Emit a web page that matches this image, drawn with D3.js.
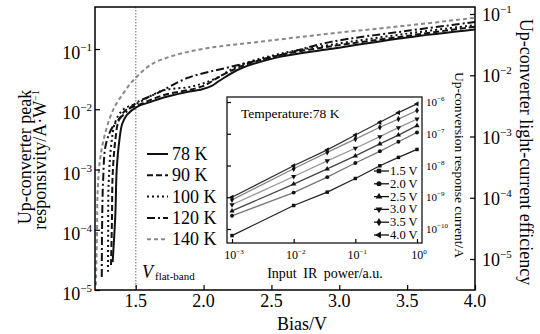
<!DOCTYPE html>
<html>
<head>
<meta charset="utf-8">
<script src="https://cdn.jsdelivr.net/npm/d3@7"></script>
<style>
    body { margin: 0; background: #fff; }
    svg { font-family: "Liberation Serif", "Times New Roman", serif; }
</style>
</head>
<body>
<div id="chart"></div>
<script>
const width = 540;
const height = 334;

// Main chart: peak responsivity (A/W) vs bias (V)
const temperatures = ['78 K', '90 K', '100 K', '120 K', '140 K'];

const bias78K = [1.33, 1.35, 1.36, 1.38, 1.40, 1.435, 1.51, 1.60, 1.70, 1.86, 1.99, 2.06, 2.12, 2.27, 2.56, 2.93, 3.50, 4.0];
const resp78K = [2.9e-5, 1.8e-4, 1.0e-3, 3.1e-3, 5.7e-3, 8.1e-3, 1.1e-2, 1.3e-2, 1.55e-2, 1.9e-2, 2.15e-2, 2.45e-2, 3.0e-2, 4.7e-2, 7.4e-2, 1.0e-1, 1.55e-1, 2.1e-1];

const bias90K = [1.318, 1.325, 1.33, 1.35, 1.376, 1.43, 1.51, 1.70, 1.99, 2.12, 2.27, 2.56, 2.93, 3.50, 4.0];
const resp90K = [2.6e-5, 1.45e-4, 8.1e-4, 3.1e-3, 6.6e-3, 9.8e-3, 1.15e-2, 1.7e-2, 2.4e-2, 3.5e-2, 5.1e-2, 7.9e-2, 1.1e-1, 1.65e-1, 2.35e-1];

const bias100K = [1.296, 1.297, 1.30, 1.32, 1.35, 1.41, 1.51, 1.70, 1.90, 2.07, 2.27, 2.56, 2.93, 3.50, 4.0];
const resp100K = [2.0e-5, 1.0e-4, 5.5e-4, 2.6e-3, 6.2e-3, 1.0e-2, 1.25e-2, 2.05e-2, 2.35e-2, 3.1e-2, 5.4e-2, 8.3e-2, 1.17e-1, 1.8e-1, 2.5e-1];

const bias120K = [1.25, 1.252, 1.26, 1.28, 1.33, 1.41, 1.51, 1.66, 1.88, 2.19, 2.56, 2.93, 3.50, 4.0];
const resp120K = [1.65e-5, 1.0e-4, 6.7e-4, 2.6e-3, 5.1e-3, 8.1e-3, 1.3e-2, 1.85e-2, 3.3e-2, 5.0e-2, 7.9e-2, 1.3e-1, 2.0e-1, 2.8e-1];

const bias140K = [1.207, 1.215, 1.22, 1.237, 1.266, 1.31, 1.354, 1.406, 1.457, 1.51, 1.58, 1.656, 1.825, 2.046, 2.34, 2.93, 3.50, 4.0];
const resp140K = [1.2e-5, 1.0e-4, 4.6e-4, 1.45e-3, 3.3e-3, 7.2e-3, 1.2e-2, 1.8e-2, 2.6e-2, 3.5e-2, 4.9e-2, 6.2e-2, 8.3e-2, 1.05e-1, 1.26e-1, 1.8e-1, 2.45e-1, 3.3e-1];

const biasTicks = [1.5, 2.0, 2.5, 3.0, 3.5, 4.0];
const logTicks = [1e-1, 1e-2, 1e-3, 1e-4, 1e-5];
const flatBandBias = 1.5;

// Inset: up-conversion response current (A) vs input IR power
const biasLabels = ['1.5 V', '2.0 V', '2.5 V', '3.0 V', '3.5 V', '4.0 V'];
const irPower = [0.001, 0.01, 0.035, 0.1, 0.25, 0.5, 1.0];
const current15V = [6.2e-11, 5.5e-10, 1.45e-9, 3.9e-9, 9.8e-9, 1.8e-8, 3.2e-8];
const current20V = [2.6e-10, 1.4e-9, 4.3e-9, 1.2e-8, 2.8e-8, 5.6e-8, 1.1e-7];
const current25V = [3.7e-10, 2.6e-9, 7.8e-9, 2.0e-8, 4.8e-8, 9.1e-8, 1.8e-7];
const current30V = [5.8e-10, 4.5e-9, 1.4e-8, 3.5e-8, 8.1e-8, 1.55e-7, 2.9e-7];
const current35V = [8.3e-10, 7.9e-9, 2.6e-8, 6.8e-8, 1.6e-7, 2.9e-7, 5.4e-7];
const current40V = [1.0e-9, 9.8e-9, 3.1e-8, 9.1e-8, 2.3e-7, 4.6e-7, 8.7e-7];
const powerTicks = [1e-3, 1e-2, 1e-1, 1e0];
const currentTicks = [1e-6, 1e-7, 1e-8, 1e-9, 1e-10];

const svg = d3.select('#chart')
    .append('svg')
    .attr('width', width)
    .attr('height', height);

// Scales for the main plot
const plotLeft = 95, plotRight = 475, plotTop = 7, plotBottom = 290;
const x = d3.scaleLinear().domain([1.2, 4.0]).range([plotLeft, plotRight]);
const yLeft = d3.scaleLog().domain([1e-5, 1e-1]).range([290, 49]);
const yRight = d3.scaleLog().domain([1e-5, 1e-1]).range([259, 14]);

// exponent text like "−3"
const expText = v => String(Math.round(Math.log10(v))).replace('-', '\u2212');

svg.append('clipPath')
    .attr('id', 'plotClip')
    .append('rect')
    .attr('x', plotLeft)
    .attr('y', plotTop)
    .attr('width', plotRight - plotLeft)
    .attr('height', plotBottom - plotTop);

// Flat-band line
svg.append('line')
    .attr('x1', x(flatBandBias))
    .attr('x2', x(flatBandBias))
    .attr('y1', plotTop)
    .attr('y2', plotBottom)
    .attr('stroke', '#999')
    .attr('stroke-width', 1.5)
    .attr('stroke-dasharray', '1.5,1.5');

// Curves
const series = [
    { bias: bias78K, resp: resp78K, dash: null, color: '#111' },
    { bias: bias90K, resp: resp90K, dash: '6,3', color: '#111' },
    { bias: bias100K, resp: resp100K, dash: '2,3', color: '#111' },
    { bias: bias120K, resp: resp120K, dash: '8,3,2,3', color: '#111' },
    { bias: bias140K, resp: resp140K, dash: '4,3', color: '#888' }
];

const line = d3.line()
    .x(d => x(d[0]))
    .y(d => yLeft(d[1]))
    .curve(d3.curveCatmullRom.alpha(0.5));

svg.append('g')
    .attr('clip-path', 'url(#plotClip)')
    .selectAll('path')
    .data(series)
    .enter()
    .append('path')
    .attr('d', s => line(s.bias.map((b, i) => [b, s.resp[i]])))
    .attr('fill', 'none')
    .attr('stroke', s => s.color)
    .attr('stroke-width', 2)
    .attr('stroke-dasharray', s => s.dash);

// Frame
svg.append('rect')
    .attr('x', plotLeft)
    .attr('y', plotTop)
    .attr('width', plotRight - plotLeft)
    .attr('height', plotBottom - plotTop)
    .attr('fill', 'none')
    .attr('stroke', '#000')
    .attr('stroke-width', 1.5);

// Axes (inward ticks, labels drawn separately)
svg.append('g')
    .attr('transform', `translate(0,${plotBottom})`)
    .call(d3.axisBottom(x).tickValues(biasTicks).tickSize(-5).tickFormat(''))
    .call(g => g.select('.domain').remove());
svg.append('g')
    .attr('transform', `translate(${plotLeft},0)`)
    .call(d3.axisLeft(yLeft).tickValues(logTicks).tickSize(-5).tickFormat(''))
    .call(g => g.select('.domain').remove());
svg.append('g')
    .attr('transform', `translate(${plotRight},0)`)
    .call(d3.axisRight(yRight).tickValues(logTicks).tickSize(-5).tickFormat(''))
    .call(g => g.select('.domain').remove());
svg.selectAll('.tick line').attr('stroke', '#000').attr('stroke-width', 1.2);

svg.selectAll('.xlab')
    .data(biasTicks)
    .enter()
    .append('text')
    .attr('x', d => x(d))
    .attr('y', 307)
    .attr('text-anchor', 'middle')
    .attr('font-size', 18)
    .text(d => d.toFixed(1));

const leftLab = svg.selectAll('.ylab')
    .data(logTicks)
    .enter()
    .append('text')
    .attr('x', 92)
    .attr('y', d => yLeft(d) + 10)
    .attr('text-anchor', 'end')
    .attr('font-size', 18);
leftLab.append('tspan').text('10');
leftLab.append('tspan').attr('font-size', 11).attr('dy', -8).text(d => expText(d));

const rightLab = svg.selectAll('.rlab')
    .data(logTicks)
    .enter()
    .append('text')
    .attr('x', 482)
    .attr('y', d => yRight(d) + 7)
    .attr('font-size', 18);
rightLab.append('tspan').text('10');
rightLab.append('tspan').attr('font-size', 11).attr('dy', -8).text(d => expText(d));

// Axis titles
svg.append('text')
    .attr('x', 302)
    .attr('y', 330)
    .attr('text-anchor', 'middle')
    .attr('font-size', 18)
    .text('Bias/V');

svg.append('text')
    .attr('transform', 'translate(31,157) rotate(-90)')
    .attr('text-anchor', 'middle')
    .attr('font-size', 18)
    .text('Up-converter peak');
const t2 = svg.append('text')
    .attr('transform', 'translate(46,160) rotate(-90)')
    .attr('text-anchor', 'middle')
    .attr('font-size', 18);
t2.append('tspan').text('responsivity/A\u00b7W');
t2.append('tspan').attr('font-size', 10).attr('dy', -7).text('\u22121');

svg.append('text')
    .attr('transform', 'translate(520,152) rotate(90)')
    .attr('text-anchor', 'middle')
    .attr('font-size', 18)
    .text('Up-converter light-current efficiency');

// V flat-band label
const vfb = svg.append('text')
    .attr('x', 142)
    .attr('y', 278)
    .attr('font-size', 18);
vfb.append('tspan').attr('font-style', 'italic').text('V');
vfb.append('tspan').attr('font-size', 11).attr('dx', 2).attr('dy', 2).text('flat-band');

// Main legend
const legend = svg.append('g')
    .selectAll('g')
    .data(series)
    .enter()
    .append('g')
    .attr('transform', (d, i) => `translate(0,${154 + i * 21.3})`);
legend.append('line')
    .attr('x1', 147)
    .attr('x2', 168)
    .attr('stroke', d => d.color)
    .attr('stroke-width', 2)
    .attr('stroke-dasharray', d => d.dash);
legend.append('text')
    .attr('x', 172)
    .attr('y', 6)
    .attr('font-size', 18)
    .text((d, i) => temperatures[i]);

// ---- Inset ----
const inL = 227, inR = 422, inT = 97, inB = 243;
const xi = d3.scaleLog().domain([1e-3, 1]).range([232, 417]);
const yi = d3.scaleLog().domain([1e-10, 1e-6]).range([229, 102]);

const inset = svg.append('g');
inset.append('rect')
    .attr('x', inL)
    .attr('y', inT)
    .attr('width', inR - inL)
    .attr('height', inB - inT)
    .attr('fill', '#fff')
    .attr('stroke', '#000')
    .attr('stroke-width', 1.2);

inset.append('g')
    .attr('transform', `translate(0,${inB})`)
    .call(d3.axisBottom(xi).tickValues(powerTicks).tickSize(-4).tickFormat(''))
    .call(g => g.select('.domain').remove());
inset.append('g')
    .attr('transform', `translate(${inL},0)`)
    .call(d3.axisLeft(yi).tickValues(currentTicks).tickSize(-4).tickFormat(''))
    .call(g => g.select('.domain').remove());
inset.selectAll('.tick line').attr('stroke', '#000').attr('stroke-width', 1.2);

const ixLab = inset.selectAll('.ixlab')
    .data(powerTicks)
    .enter()
    .append('text')
    .attr('x', d => xi(d) + 2)
    .attr('y', 259)
    .attr('text-anchor', 'middle')
    .attr('font-size', 12);
ixLab.append('tspan').text('10');
ixLab.append('tspan').attr('font-size', 7).attr('dy', -5).text(d => expText(d));

const iyLab = inset.selectAll('.iylab')
    .data(currentTicks)
    .enter()
    .append('text')
    .attr('x', 426)
    .attr('y', d => yi(d) + 4)
    .attr('font-size', 11);
iyLab.append('tspan').text('10');
iyLab.append('tspan').attr('font-size', 7).attr('dy', -5).text(d => expText(d));

inset.append('text')
    .attr('x', 325)
    .attr('y', 278)
    .attr('text-anchor', 'middle')
    .attr('font-size', 14)
    .attr('word-spacing', 3)
    .text('Input IR power/a.u.');

inset.append('text')
    .attr('transform', 'translate(455,165) rotate(90)')
    .attr('text-anchor', 'middle')
    .attr('font-size', 13.5)
    .text('Up-conversion response current/A');

inset.append('text')
    .attr('x', 241)
    .attr('y', 118)
    .attr('font-size', 13.5)
    .text('Temperature:78 K');

const insetSeries = [
    { label: biasLabels[0], vals: current15V, color: '#222', sym: d3.symbolSquare, rot: 0 },
    { label: biasLabels[1], vals: current20V, color: '#777', sym: d3.symbolCircle, rot: 0 },
    { label: biasLabels[2], vals: current25V, color: '#444', sym: d3.symbolTriangle, rot: 0 },
    { label: biasLabels[3], vals: current30V, color: '#999', sym: d3.symbolTriangle, rot: 180 },
    { label: biasLabels[4], vals: current35V, color: '#888', sym: d3.symbolDiamond, rot: 0 },
    { label: biasLabels[5], vals: current40V, color: '#333', sym: d3.symbolTriangle, rot: -90 }
];

const iline = d3.line()
    .x(d => xi(d[0]))
    .y(d => yi(d[1]));

const ig = inset.selectAll('.iser')
    .data(insetSeries)
    .enter()
    .append('g');
ig.append('path')
    .attr('d', s => iline(irPower.map((p, i) => [p, s.vals[i]])))
    .attr('fill', 'none')
    .attr('stroke', s => s.color)
    .attr('stroke-width', 1.3);
ig.selectAll('path.pt')
    .data(s => irPower.map((p, i) => ({ p, v: s.vals[i], s })))
    .enter()
    .append('path')
    .attr('class', 'pt')
    .attr('d', d => d3.symbol().type(d.s.sym).size(12)())
    .attr('transform', d => `translate(${xi(d.p)},${yi(d.v)}) rotate(${d.s.rot})`)
    .attr('fill', '#111');

// Inset legend
const il = inset.selectAll('.ileg')
    .data(insetSeries)
    .enter()
    .append('g')
    .attr('transform', (d, i) => `translate(0,${171 + i * 12.8})`);
il.append('line')
    .attr('x1', 374)
    .attr('x2', 389)
    .attr('stroke', '#111')
    .attr('stroke-width', 1.3);
il.append('path')
    .attr('d', d => d3.symbol().type(d.sym).size(20)())
    .attr('transform', d => `translate(379,0) rotate(${d.rot})`)
    .attr('fill', '#111');
il.append('text')
    .attr('x', 390)
    .attr('y', 4)
    .attr('font-size', 12.5)
    .text(d => d.label);
</script>
</body>
</html>
